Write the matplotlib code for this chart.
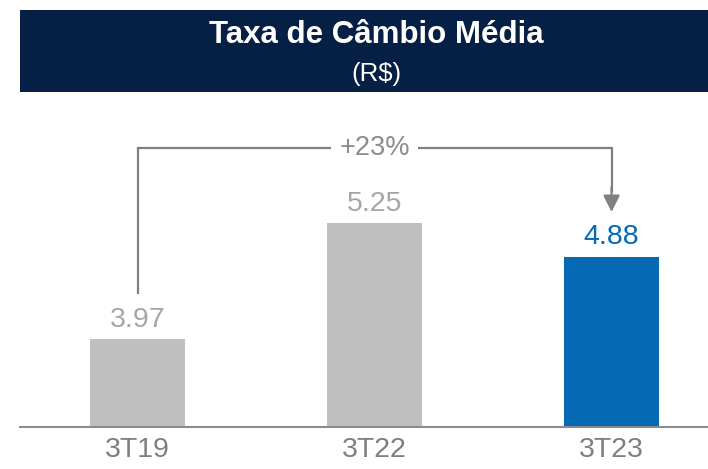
import matplotlib.pyplot as plt
from matplotlib.patches import Rectangle

plt.rcParams["font.family"] = ["Liberation Sans", "DejaVu Sans"]

# data
quarters = ["3T19", "3T22", "3T23"]
rates = [3.97, 5.25, 4.88]
value_labels = ["3.97", "5.25", "4.88"]
growth_label = "+23%"

GRAY_BAR = "#bfbfbf"
BLUE = "#0569b3"
NAVY = "#061f45"
W, H = 708, 469

fig = plt.figure(figsize=(W / 100, H / 100), dpi=100)

# title banner
fig.patches.append(Rectangle((20 / W, 1 - 92 / H), 1 - 20 / W, 82 / H,
                             transform=fig.transFigure, facecolor=NAVY,
                             edgecolor="none", zorder=0))
fig.text(376 / W, 1 - 35 / H, "Taxa de Câmbio Média", color="white",
         fontsize=22.5, fontweight="bold", ha="center", va="center")
fig.text(376 / W, 1 - 74 / H, "(R$)", color="white", fontsize=18.5,
         ha="center", va="center")

ax = fig.add_axes([20 / W, 42 / H, 688 / W, 327 / H])
x = list(range(len(quarters)))
colors = [GRAY_BAR, GRAY_BAR, BLUE]
ax.bar(x, rates, width=0.4, bottom=0, color=colors)
ax.set_xlim(-0.496, 2.407)
ax.set_ylim(3.0, 6.609)

for xi, v, lab, c in zip(x, rates, value_labels, colors):
    tc = BLUE if c == BLUE else "#a6a6a6"
    ax.annotate(lab, (xi, v), xytext=(0, 4.5), textcoords="offset points",
                ha="center", va="bottom", fontsize=20.5, color=tc)

# baseline
ax.axhline(3.0, color="#8c8c8c", lw=1.5, clip_on=False)

# growth bracket 3T19 -> 3T23
line_c = "#808080"
top_y = 6.079
ax.plot([0, 0, 2, 2], [4.479, top_y, top_y, 5.6], color=line_c, lw=1.6,
        solid_joinstyle="miter")
ax.annotate("", xy=(2, 5.373), xytext=(2, 5.65),
            arrowprops=dict(arrowstyle="-|>,head_length=1.0,head_width=0.5",
                            color=line_c, lw=1.6, shrinkA=0, shrinkB=0))
ax.text(1, top_y, growth_label, ha="center", va="center", fontsize=19.5,
        color="#8c8c8c",
        bbox=dict(facecolor="white", edgecolor="none", pad=6))

ax.set_xticks(x)
ax.set_xticklabels(quarters, fontsize=20.5, color="#7f7f7f")
ax.tick_params(axis="x", length=0, pad=7)
ax.set_yticks([])
for s in ax.spines.values():
    s.set_visible(False)

fig.savefig("out.png", dpi=100)
